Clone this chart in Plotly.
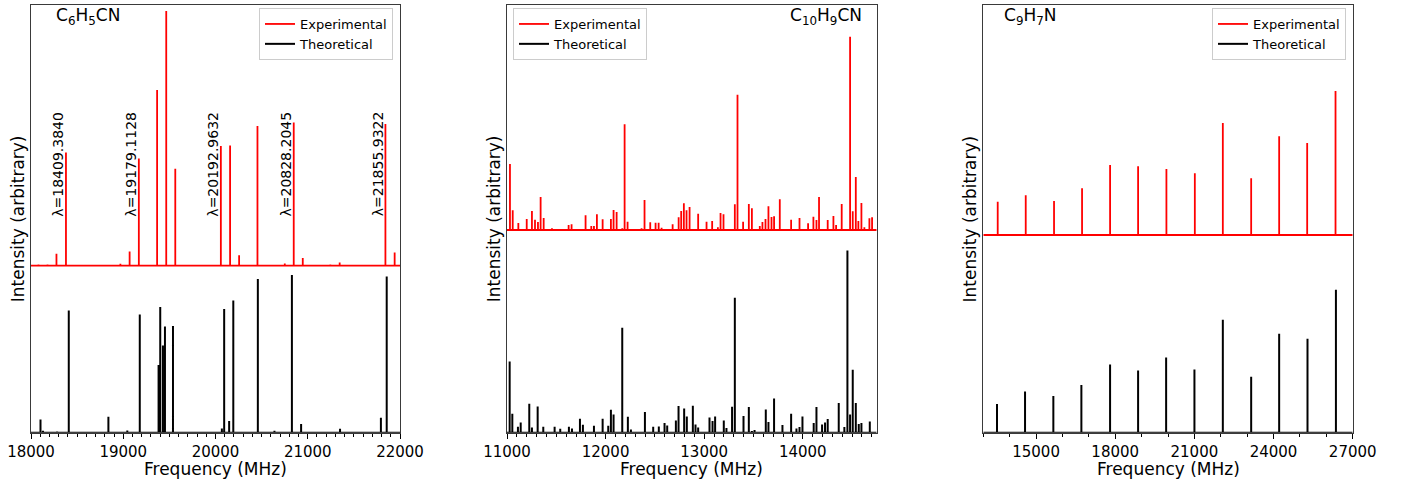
import plotly.graph_objects as go

FONT = "DejaVu Sans"

# ---------------- C6H5CN ----------------
c6_exp_freq = [18081, 18179, 18276, 18379, 18474, 18571, 18771, 18871, 18969, 19069,
               19169, 19264, 19367, 19466, 19564, 19661, 20058, 20158, 20256, 20455,
               20654, 20751, 20848, 20946, 21144, 21245, 21346, 21444, 21842, 21942]
c6_exp_int = [1.3, 1.3, 12.0, 113.3, 0.7, 0.7, 0.7, 0.7, 2.0, 14.3,
              107.3, 1.0, 175.7, 254.7, 97.0, 1.0, 119.7, 120.3, 10.5, 139.7,
              1.0, 2.3, 143.3, 7.8, 0.7, 1.3, 3.3, 0.7, 141.7, 13.3]
c6_theo_freq = [18103, 18130, 18283, 18409.3840, 18506, 18839, 19044, 19179.1128, 19383,
                19401, 19430, 19452, 19539, 20069, 20094, 20148, 20192.9632, 20459,
                20639, 20828.2045, 20928, 21350, 21793, 21855.9322]
c6_theo_int = [13.3, 2.0, 1.3, 122.3, 0.7, 16.0, 2.3, 118.3, 67.7,
               125.7, 87.3, 106.3, 106.7, 4.3, 123.7, 11.7, 132.3, 153.7,
               2.0, 157.7, 8.7, 4.0, 15.0, 156.3]
c6_lambda = [18409.3840, 19179.1128, 20192.9632, 20828.2045, 21855.9322]
c6_lambda_line = [18379, 19169, 20058, 20848, 21842]   # experimental lines carrying the labels

# ---------------- C10H9CN ----------------
c10_exp_freq = [11030, 11058, 11115, 11200, 11253, 11284, 11314, 11341, 11372, 11456,
                11540, 11625, 11655, 11740, 11797, 11855, 11882, 11912, 11940, 11970,
                12054, 12081, 12112, 12169, 12193, 12223, 12284, 12311, 12365, 12395,
                12453, 12507, 12538, 12568, 12625, 12680, 12741, 12767, 12794, 12821,
                12852, 12939, 13024, 13081, 13139, 13166, 13196, 13255, 13311, 13338,
                13395, 13453, 13484, 13511, 13537, 13564, 13591, 13622, 13652, 13683,
                13709, 13767, 13794, 13882, 13909, 13967, 14024, 14054, 14108, 14139,
                14165, 14223, 14253, 14311, 14338, 14395, 14480, 14507, 14538, 14564,
                14595, 14625, 14676, 14703]
c10_exp_int = [66.0, 19.7, 7.0, 11.0, 19.0, 10.3, 8.0, 33.0, 12.0, 1.7,
               1.0, 5.0, 5.7, 1.0, 14.7, 4.0, 4.0, 15.7, 1.0, 10.7,
               11.0, 20.0, 18.0, 1.7, 105.7, 8.3, 1.0, 1.0, 1.7, 30.0,
               7.7, 7.3, 7.3, 2.3, 1.0, 5.7, 12.7, 19.0, 26.7, 19.7,
               23.0, 16.3, 8.3, 9.0, 2.7, 17.0, 15.7, 1.0, 25.7, 135.3,
               8.3, 26.0, 21.7, 1.0, 1.0, 4.0, 8.0, 11.0, 23.7, 13.0,
               13.7, 30.7, 1.0, 10.3, 1.0, 12.0, 1.0, 6.7, 13.3, 10.0,
               33.0, 1.0, 10.0, 14.0, 5.0, 26.0, 193.3, 18.7, 53.0, 9.0,
               27.0, 2.7, 11.7, 12.7]
c10_theo_freq = [11027, 11054, 11111, 11139, 11226, 11253, 11311, 11368, 11483, 11540,
                 11628, 11659, 11740, 11770, 11882, 11970, 12027, 12054, 12081, 12169,
                 12226, 12257, 12399, 12483, 12540, 12598, 12625, 12713, 12740, 12797,
                 12824, 12885, 12912, 12939, 13054, 13085, 13111, 13199, 13226, 13283,
                 13311, 13399, 13453, 13484, 13511, 13625, 13652, 13709, 13794, 13882,
                 13936, 13967, 13997, 14054, 14111, 14139, 14196, 14226, 14253, 14365,
                 14422, 14453, 14480, 14507, 14538, 14568, 14595, 14680]
c10_theo_int = [71.3, 19.0, 6.0, 10.3, 29.0, 5.3, 26.3, 6.0, 6.0, 4.0,
                6.0, 4.3, 14.0, 8.0, 7.0, 14.0, 7.0, 23.0, 18.3, 105.0,
                16.0, 3.3, 20.7, 6.0, 6.3, 9.7, 7.3, 12.3, 26.7, 24.3,
                16.3, 27.0, 8.3, 5.3, 15.3, 11.7, 16.3, 12.3, 4.7, 26.0,
                135.0, 16.7, 25.7, 1.7, 2.7, 23.3, 10.7, 34.3, 7.7, 19.0,
                4.3, 5.7, 16.3, 1.0, 9.7, 25.7, 8.3, 10.3, 13.7, 29.7,
                5.7, 182.3, 18.3, 63.0, 29.7, 8.7, 9.7, 11.3]

# ---------------- C9H7N ----------------
c9_exp_freq = [13546, 14608, 15681, 16743, 17805, 18867, 19940, 21017, 22078, 23152,
               24213, 25275, 26349]
c9_exp_int = [33.3, 39.7, 34.0, 46.7, 70.0, 68.7, 66.0, 61.7, 112.0, 56.7,
              98.7, 92.0, 144.0]
c9_theo_freq = [13520, 14582, 15655, 16717, 17805, 18867, 19929, 21002, 22078, 23152,
                24213, 25287, 26364]
c9_theo_int = [28.7, 41.3, 36.7, 47.7, 68.3, 62.3, 75.3, 63.3, 113.0, 56.0,
               99.0, 94.0, 143.0]

# vertical offset of the experimental trace above the theoretical one
exp_offset = [167.0, 202.7, 197.7]
y_top = 428.0
x_ranges = [[18000, 22000], [11000, 14750], [13000, 27000]]
titles = ["C<sub>6</sub>H<sub>5</sub>CN", "C<sub>10</sub>H<sub>9</sub>CN", "C<sub>9</sub>H<sub>7</sub>N"]

W, H = 1403, 482
px_dom = [(31.0, 400.0), (507.0, 876.7), (983.3, 1352.7)]
y_dom = [(H - 432.7) / H, (H - 4.7) / H]


def stick_spectrum(freqs, ints, base, xr):
    """Continuous stick spectrum: baseline with a vertical spike at every line."""
    pairs = sorted(zip(freqs, ints))
    xs, ys = [xr[0]], [base]
    for f, h in pairs:
        xs += [f, f, f]
        ys += [base, base + h, base]
    xs.append(xr[1])
    ys.append(base)
    return xs, ys


fig = go.Figure()
datasets = [
    (c6_exp_freq, c6_exp_int, c6_theo_freq, c6_theo_int),
    (c10_exp_freq, c10_exp_int, c10_theo_freq, c10_theo_int),
    (c9_exp_freq, c9_exp_int, c9_theo_freq, c9_theo_int),
]

for i, (ef, ei, tf, ti) in enumerate(datasets):
    sfx = "" if i == 0 else str(i + 1)
    leg = "legend" if i == 0 else f"legend{i + 1}"
    xs, ys = stick_spectrum(ef, ei, exp_offset[i], x_ranges[i])
    fig.add_trace(go.Scatter(x=xs, y=ys, mode="lines", name="Experimental",
                             line=dict(color="#ff0000", width=1.8),
                             xaxis="x" + sfx, yaxis="y" + sfx, legend=leg))
    xs, ys = stick_spectrum(tf, ti, 0.0, x_ranges[i])
    fig.add_trace(go.Scatter(x=xs, y=ys, mode="lines", name="Theoretical",
                             line=dict(color="#000000", width=2),
                             xaxis="x" + sfx, yaxis="y" + sfx, legend=leg))

layout = dict(
    width=W, height=H,
    margin=dict(l=0, r=0, t=0, b=0, pad=0, autoexpand=False),
    paper_bgcolor="white", plot_bgcolor="white",
    font=dict(family=FONT, color="black"),
    showlegend=True,
)

tick_setup = [
    dict(tick0=18000, dtick=1000, minor=dict(dtick=100)),
    dict(tick0=11000, dtick=1000, minor=dict(dtick=100)),
    dict(tick0=15000, dtick=3000, minor=dict(dtick=1000)),
]

annotations = []
for i in range(3):
    sfx = "" if i == 0 else str(i + 1)
    x0, x1 = px_dom[i]
    ts = tick_setup[i]
    layout["xaxis" + sfx] = dict(
        domain=[x0 / W, x1 / W], range=x_ranges[i], anchor="y" + sfx,
        showline=True, mirror=True, linecolor="#3a3a3a", linewidth=1,
        ticks="outside", ticklen=5, tickwidth=1, tickcolor="black",
        tick0=ts["tick0"], dtick=ts["dtick"], tickformat="d",
        minor=dict(ticks="outside", ticklen=3, tickwidth=1, tickcolor="black",
                   dtick=ts["minor"]["dtick"], showgrid=False),
        showgrid=False, zeroline=False, automargin=False,
        tickfont=dict(family=FONT, size=15, color="black"),
        fixedrange=True,
    )
    layout["yaxis" + sfx] = dict(
        domain=list(y_dom), range=[0, y_top], anchor="x" + sfx,
        showline=True, mirror=True, linecolor="#3a3a3a", linewidth=1,
        showticklabels=False, ticks="", showgrid=False, zeroline=False,
        automargin=False, fixedrange=True,
    )
    # axis titles
    annotations.append(dict(
        text="Frequency (MHz)", xref="paper", yref="paper",
        x=(x0 + x1) / 2 / W, y=(H - 469) / H, xanchor="center", yanchor="middle",
        showarrow=False, font=dict(family=FONT, size=17, color="black")))
    annotations.append(dict(
        text="Intensity (arbitrary)", xref="paper", yref="paper",
        x=(x0 - 13.5) / W, y=(H - 218.7) / H, xanchor="center", yanchor="middle",
        textangle=-90, showarrow=False, font=dict(family=FONT, size=17, color="black")))

# molecule names
annotations.append(dict(text=titles[0], xref="paper", yref="paper", x=54 / W, y=(H - 17) / H,
                        xanchor="left", yanchor="middle", showarrow=False,
                        font=dict(family=FONT, size=17, color="black")))
annotations.append(dict(text=titles[1], xref="paper", yref="paper", x=864 / W, y=(H - 17) / H,
                        xanchor="right", yanchor="middle", showarrow=False,
                        font=dict(family=FONT, size=17, color="black")))
annotations.append(dict(text=titles[2], xref="paper", yref="paper", x=1002 / W, y=(H - 17) / H,
                        xanchor="left", yanchor="middle", showarrow=False,
                        font=dict(family=FONT, size=17, color="black")))

# wavelength labels beside the experimental lines of the first panel
for lam, fx in zip(c6_lambda, c6_lambda_line):
    annotations.append(dict(
        text=f"\u03bb={lam:.4f}", xref="x", yref="y", x=fx, y=432.7 - 218.3,
        xanchor="center", yanchor="bottom", xshift=-8, textangle=-90,
        showarrow=False, font=dict(family=FONT, size=14, color="black")))

layout["annotations"] = annotations

legend_style = dict(bgcolor="rgba(255,255,255,0.8)", bordercolor="#cccccc", borderwidth=1,
                    font=dict(family=FONT, size=13, color="black"),
                    yanchor="top", y=(H - 8) / H, tracegroupgap=0)
layout["legend"] = dict(legend_style, x=393 / W, xanchor="right")
layout["legend2"] = dict(legend_style, x=513 / W, xanchor="left")
layout["legend3"] = dict(legend_style, x=1346 / W, xanchor="right")

fig.update_layout(**layout)
fig.write_html("out.html")
